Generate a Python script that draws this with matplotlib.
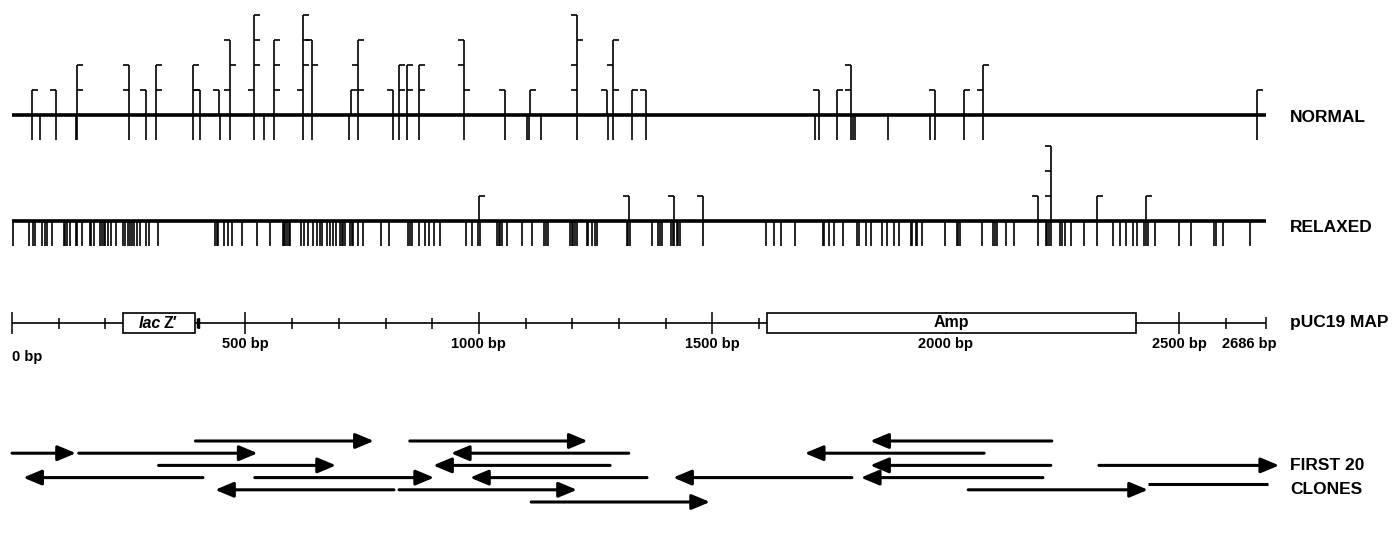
import numpy as np
import matplotlib.pyplot as plt
from matplotlib.patches import Rectangle, FancyArrowPatch

plt.rcParams['font.family'] = ['Liberation Sans', 'DejaVu Sans']

## Data (all positions in bp along pUC19)
plasmid_len = 2686

# NORMAL track: hits drawn below the line
normal_down = [42, 61, 94, 137, 139, 251, 288, 308, 388, 403, 445, 467, 519, 540,
               562, 624, 643, 722, 742, 817, 829, 845, 872, 968, 1056, 1102, 1108,
               1133, 1211, 1276, 1287, 1327, 1358, 1720, 1728, 1768, 1796, 1801,
               1806, 1876, 1966, 1977, 2039, 2079, 2667]
# NORMAL track: stacked hits above the line, hook side per level (bottom -> top)
normal_up_pos = [42, 94, 140, 251, 287, 308, 388, 403, 444, 467, 519, 562, 624, 643,
                 726, 742, 817, 829, 845, 872, 968, 1056, 1110, 1211, 1274, 1287,
                 1327, 1358, 1728, 1768, 1796, 1977, 2039, 2080, 2667]
normal_up_hooks = ['R', 'L', 'RR', 'LL', 'L', 'RR', 'RR', 'L', 'L', 'LRL', 'LRRR',
                   'RRR', 'LRRR', '-RL', 'R', 'RLR', 'L', 'RR', 'RR', 'RR', 'RLL',
                   'L', 'R', 'LLRL', 'L', 'RLR', 'R', 'L', 'L', 'R', 'LL', 'L', 'R',
                   'LR', 'R']

# RELAXED track
relaxed_down = [2, 37, 46, 49, 65, 71, 75, 85, 111, 114, 117, 124, 137, 140, 150, 166,
                169, 176, 188, 192, 196, 199, 206, 211, 223, 237, 242, 248, 253, 258,
                262, 267, 274, 288, 293, 313, 435, 438, 442, 454, 463, 472, 493, 524,
                553, 580, 583, 585, 588, 593, 595, 620, 625, 635, 645, 654, 660, 665,
                674, 681, 688, 694, 703, 706, 710, 713, 724, 728, 731, 742, 752, 790,
                808, 849, 852, 856, 872, 885, 894, 904, 917, 972, 985, 999, 1002,
                1038, 1042, 1045, 1049, 1060, 1092, 1113, 1139, 1144, 1147, 1195,
                1199, 1202, 1206, 1211, 1231, 1234, 1243, 1249, 1252, 1317, 1320,
                1324, 1370, 1384, 1388, 1392, 1411, 1415, 1418, 1424, 1427, 1431,
                1481, 1615, 1633, 1647, 1677, 1736, 1740, 1750, 1761, 1780, 1810,
                1814, 1829, 1839, 1863, 1873, 1889, 1900, 1925, 1928, 1936, 1939,
                1950, 1998, 2023, 2027, 2030, 2077, 2102, 2105, 2109, 2130, 2145,
                2198, 2215, 2217, 2220, 2225, 2245, 2248, 2255, 2268, 2296, 2324,
                2359, 2373, 2387, 2402, 2409, 2425, 2429, 2432, 2448, 2500, 2525,
                2575, 2579, 2594, 2652]
relaxed_up_pos = [1001, 1322, 1418, 1481, 2198, 2225, 2324, 2429]
relaxed_up_hooks = ['R', 'L', 'L', 'L', 'L', 'LLL', 'R', 'R']

# pUC19 map
map_major = [0, 500, 1000, 1500, 2000, 2500]
map_minor = [100, 200, 300, 400, 600, 700, 800, 900, 1100, 1200, 1300, 1400, 1600,
             1700, 1800, 1900, 2100, 2200, 2300, 2400, 2600]
map_labels = ['0 bp', '500 bp', '1000 bp', '1500 bp', '2000 bp', '2500 bp']
lacz_span = (238, 392)
amp_span = (1617, 2407)

# first 20 clones: tail -> head, lane (row from top)
clone_tail = [393, 852, 2227, 0, 143, 1321, 2082, 314, 1281, 2225, 2328,
              409, 520, 1360, 1799, 2208, 818, 829, 2048, 1112]
clone_head = [775, 1233, 1838, 137, 526, 940, 1698, 694, 902, 1838, 2714,
              24, 904, 981, 1416, 1818, 435, 1210, 2433, 1495]
clone_lane = [0, 0, 0, 1, 1, 1, 1, 2, 2, 2, 2, 3, 3, 3, 3, 3, 4, 4, 4, 5]
wrap_line = (2433, 2690)

## Layout
px = 0.4669          # pixels per bp
hook = 6 / px        # hook length in bp
normal_y, relaxed_y, map_y = 115, 221, 323
lane_y0, lane_dy = 441, 12.2
label_x = 2737

fig = plt.figure(figsize=(13.96, 5.35), dpi=100)
ax = fig.add_axes([0, 0, 1, 1])
ax.set_xlim(-12 / px, (1396 - 12) / px)
ax.set_ylim(535, 0)
ax.axis('off')


def track(y0, down, up_pos, up_hooks, step=25):
    ax.hlines(y0, 0, plasmid_len, color='k', lw=2.6, zorder=3)
    ax.vlines(down, y0, y0 + 25, color='k', lw=1.2)
    for x, hooks in zip(up_pos, up_hooks):
        ax.vlines(x, y0 - step * len(hooks), y0, color='k', lw=1.2)
        for i, h in enumerate(hooks):
            if h == '-':
                continue
            d = hook if h == 'R' else -hook
            ax.hlines(y0 - step * (i + 1), x, x + d, color='k', lw=1.2)


track(normal_y, normal_down, normal_up_pos, normal_up_hooks)
track(relaxed_y, relaxed_down, relaxed_up_pos, relaxed_up_hooks)

## Map
ax.hlines(map_y, 0, plasmid_len, color='k', lw=1.2)
ax.vlines(map_minor, map_y - 5.5, map_y + 5.5, color='k', lw=1.1)
ax.vlines(map_major, map_y - 11, map_y + 11, color='k', lw=1.1)
ax.vlines(plasmid_len, map_y - 6, map_y + 6, color='k', lw=1.1)
for a, b in [lacz_span, amp_span]:
    ax.add_patch(Rectangle((a, map_y - 10), b - a, 20, fc='white', ec='k', lw=1.2, zorder=3))
ax.vlines(lacz_span[1] + 6, map_y - 5, map_y + 5, color='k', lw=2.5)
mid = (lacz_span[0] + lacz_span[1]) / 2
ax.text(mid + 4, map_y, 'lac', style='italic', weight='bold', ha='right', va='center',
        fontsize=11.5, zorder=4)
ax.text(mid + 10, map_y, "Z\u2032", weight='bold', ha='left', va='center', fontsize=11.5, zorder=4)
ax.text((amp_span[0] + amp_span[1]) / 2, map_y, 'Amp', weight='bold', ha='center', va='center',
        fontsize=11.5, zorder=4)

for x, s in zip(map_major, map_labels):
    if x == 0:
        ax.text(x, 357, s, ha='left', va='center', fontsize=10.5, weight='bold')
    else:
        ax.text(x, 344, s, ha='center', va='center', fontsize=10.5, weight='bold')
ax.text(2592, 344, '%d bp' % plasmid_len, ha='left', va='center', fontsize=10.5, weight='bold')

## Clones
for t, h, lane in zip(clone_tail, clone_head, clone_lane):
    y = lane_y0 + lane_dy * lane
    ax.add_patch(FancyArrowPatch((t, y), (h, y), arrowstyle='-|>,head_length=11,head_width=4.6',
                                 mutation_scale=1, lw=2.2, color='k', shrinkA=0, shrinkB=0))
ax.hlines(lane_y0 + lane_dy * 3.5, wrap_line[0], wrap_line[1], color='k', lw=2.2)

## Labels
for y, s in [(117, 'NORMAL'), (228, 'RELAXED'), (323, 'pUC19 MAP'), (466, 'FIRST 20'), (490, 'CLONES')]:
    ax.text(label_x, y, s, ha='left', va='center', fontsize=12.5, weight='bold')

fig.savefig('out.png', dpi=100)
